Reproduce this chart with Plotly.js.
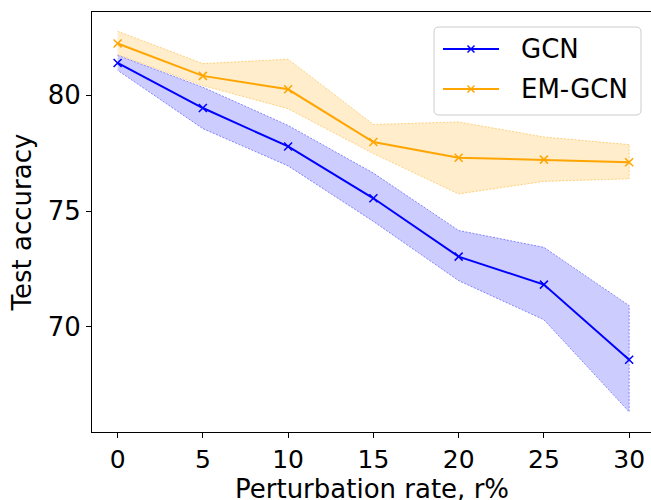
<!DOCTYPE html>
<html>
<head>
<meta charset="utf-8">
<script src="https://cdn.plot.ly/plotly-3.0.1.min.js"></script>
<style>html,body{margin:0;padding:0;overflow:hidden;background:#fff}</style>
</head>
<body>
<div id="chart" style="width:651px;height:500px"></div>
<script>
// Data
const rates = [0, 5, 10, 15, 20, 25, 30];
const gcnMean  = [81.40, 79.45, 77.79, 75.55, 73.03, 71.82, 68.57];
const gcnUpper = [81.73, 80.35, 78.70, 76.64, 74.16, 73.43, 70.91];
const gcnLower = [81.08, 78.56, 76.95, 74.55, 71.99, 70.30, 66.32];
const emMean   = [82.24, 80.84, 80.26, 77.98, 77.30, 77.22, 77.11];
const emUpper  = [82.77, 81.37, 81.56, 78.74, 78.85, 78.20, 77.87];
const emLower  = [81.76, 80.42, 79.42, 77.48, 75.74, 76.28, 76.39];
const seriesNames = ['GCN', 'EM-GCN'];
const xTicks = [0, 5, 10, 15, 20, 25, 30];
const yTicks = [70, 75, 80];
const xTitle = 'Perturbation rate, r%';
const yTitle = 'Test accuracy';

const FONT = 'DejaVu Sans, sans-serif';
const BLUE = '#0000ff', ORANGE = '#ffa500';

function band(upper, lower, fillc, edgec) {
  return {
    x: rates.concat(rates.slice().reverse()),
    y: upper.concat(lower.slice().reverse()),
    type: 'scatter', mode: 'lines', fill: 'toself',
    fillcolor: fillc,
    line: {color: edgec, width: 0.7, dash: '2px,1.5px'},
    hoverinfo: 'skip', showlegend: false
  };
}
function meanLine(y, c, name) {
  return {
    x: rates, y: y, type: 'scatter', mode: 'lines+markers', name: name,
    line: {color: c, width: 2},
    marker: {symbol: 'x-thin', size: 8, color: c, line: {width: 1.5, color: c}},
    showlegend: false
  };
}

const traces = [
  band(gcnUpper, gcnLower, 'rgba(0,0,255,0.2)', 'rgba(0,0,255,0.6)'),
  meanLine(gcnMean, BLUE, seriesNames[0]),
  band(emUpper, emLower, 'rgba(255,165,0,0.2)', 'rgba(255,165,0,0.65)'),
  meanLine(emMean, ORANGE, seriesNames[1])
];

// plot area geometry in pixels
const L = 92, R = 651, T = 12, B = 432;
const px = v => (v - L) / (R - L);
const py = v => (B - v) / (B - T);

// custom legend (matplotlib-like)
const lx0 = 434, lx1 = 641, ly0 = 27, ly1 = 115, rad = 5;
const rx = rad / (R - L), ry = rad / (B - T);
const X0 = px(lx0), X1 = px(lx1), Y0 = py(ly1), Y1 = py(ly0);
const boxPath = `M ${X0+rx},${Y0} L ${X1-rx},${Y0} Q ${X1},${Y0} ${X1},${Y0+ry} L ${X1},${Y1-ry} Q ${X1},${Y1} ${X1-rx},${Y1} L ${X0+rx},${Y1} Q ${X0},${Y1} ${X0},${Y1-ry} L ${X0},${Y0+ry} Q ${X0},${Y0} ${X0+rx},${Y0} Z`;
const shapes = [{
  type: 'path', xref: 'paper', yref: 'paper', path: boxPath,
  fillcolor: 'rgba(255,255,255,0.8)', line: {color: 'rgba(204,204,204,1)', width: 1}
}];
const annotations = [];
const legColors = [BLUE, ORANGE];
const legY = [49, 89];
const ms = 3.5;
seriesNames.forEach((n, i) => {
  const yy = legY[i];
  shapes.push({type: 'line', xref: 'paper', yref: 'paper', x0: px(443), x1: px(499), y0: py(yy), y1: py(yy), line: {color: legColors[i], width: 2}});
  shapes.push({type: 'line', xref: 'paper', yref: 'paper', x0: px(471 - ms), x1: px(471 + ms), y0: py(yy - ms), y1: py(yy + ms), line: {color: legColors[i], width: 1.5}});
  shapes.push({type: 'line', xref: 'paper', yref: 'paper', x0: px(471 - ms), x1: px(471 + ms), y0: py(yy + ms), y1: py(yy - ms), line: {color: legColors[i], width: 1.5}});
  annotations.push({xref: 'paper', yref: 'paper', x: px(519), y: py(yy), xanchor: 'left', yanchor: 'middle',
    text: n, showarrow: false, font: {family: FONT, size: 26, color: '#000'}});
});
// x-axis title placed under the tick labels
annotations.push({xref: 'paper', yref: 'paper', x: px(372), y: py(473), xanchor: 'center', yanchor: 'top',
  text: xTitle, showarrow: false, font: {family: FONT, size: 26, color: '#000'}, borderpad: 0});

const layout = {
  width: 651, height: 500,
  margin: {l: L, r: 651 - R, t: T, b: 500 - B, pad: 0},
  paper_bgcolor: '#fff', plot_bgcolor: '#fff',
  font: {family: FONT, size: 26, color: '#000'},
  showlegend: false,
  xaxis: {
    range: [-1.5, 31.28], tickvals: xTicks, ticktext: xTicks.map(String),
    showgrid: false, zeroline: false,
    showline: true, linecolor: '#000', linewidth: 1, mirror: true,
    ticks: 'outside', ticklen: 5, tickwidth: 1, tickcolor: '#000',
    tickfont: {family: FONT, size: 25, color: '#000'},
    automargin: false
  },
  yaxis: {
    range: [65.45, 83.6], tickvals: yTicks, ticktext: yTicks.map(String),
    showgrid: false, zeroline: false,
    showline: true, linecolor: '#000', linewidth: 1, mirror: false,
    ticks: 'outside', ticklen: 5, tickwidth: 1, tickcolor: '#000',
    tickfont: {family: FONT, size: 26, color: '#000'},
    title: {text: yTitle, font: {family: FONT, size: 26, color: '#000'}, standoff: 8},
    automargin: false
  },
  shapes: shapes,
  annotations: annotations
};

Plotly.newPlot('chart', traces, layout, {displayModeBar: false, staticPlot: true});
</script>
</body>
</html>
